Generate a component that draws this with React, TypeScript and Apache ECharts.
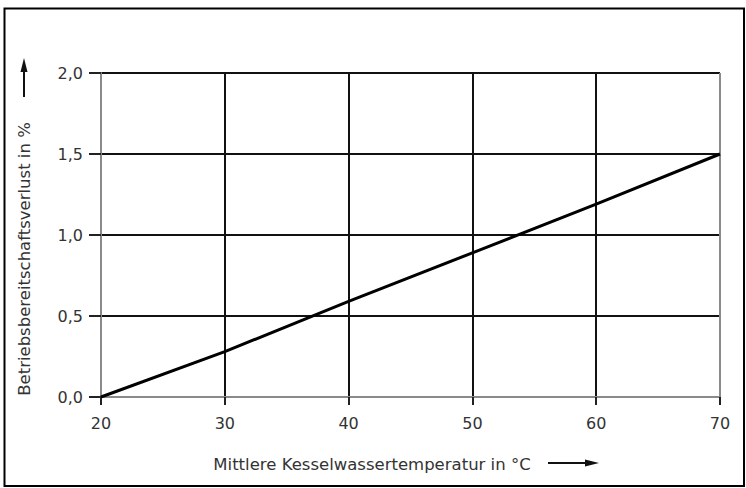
import React, { useEffect, useRef } from "react";
import * as echarts from "echarts";

const temperatures = [20, 30, 40, 50, 60, 70];
const lossPercent = [0, 0.28, 0.59, 0.89, 1.19, 1.5];
const yTitle = "Betriebsbereitschaftsverlust in %";
const xTitle = "Mittlere Kesselwassertemperatur in °C";

const FONT = "DejaVu Sans";
const TXT = "#333";

export default function App() {
  const ref = useRef<HTMLDivElement>(null);
  useEffect(() => {
    if (!ref.current) return;
    const chart = echarts.init(ref.current, null, { renderer: "svg" });
    chart.setOption({
      animation: false,
      backgroundColor: "#fff",
      grid: { left: 101, right: 26, top: 73, bottom: 91 },
      xAxis: {
        type: "value",
        min: 20,
        max: 70,
        interval: 10,
        axisLine: { show: true, lineStyle: { color: "#8a8a8a", width: 2 } },
        axisTick: { show: true, length: 8, lineStyle: { color: "#222", width: 2 } },
        axisLabel: { color: TXT, fontSize: 16, fontFamily: FONT, margin: 18 },
        splitLine: {
          show: true,
          lineStyle: { color: ["#8a8a8a", "#111", "#111", "#111", "#111", "#8a8a8a"], width: 2 },
        },
      },
      yAxis: {
        type: "value",
        min: 0,
        max: 2,
        interval: 0.5,
        axisLine: { show: true, lineStyle: { color: "#8a8a8a", width: 2 } },
        axisTick: { show: true, length: 12, lineStyle: { color: "#222", width: 2 } },
        axisLabel: {
          color: TXT,
          fontSize: 16,
          fontFamily: FONT,
          margin: 18,
          formatter: (v: number) => v.toFixed(1).replace(".", ","),
        },
        splitLine: {
          show: true,
          lineStyle: { color: ["#8a8a8a", "#111", "#111", "#111", "#111"], width: 2 },
        },
      },
      series: [
        {
          type: "line",
          data: temperatures.map((t, i) => [t, lossPercent[i]]),
          showSymbol: false,
          symbol: "none",
          lineStyle: { color: "#000", width: 3 },
          z: 5,
        },
      ],
      graphic: [
        {
          type: "rect",
          shape: { x: 4.5, y: 8.5, width: 739.5, height: 477.5 },
          style: { fill: "none", stroke: "#000", lineWidth: 2 },
          silent: true,
        },
        {
          type: "text",
          x: 24,
          y: 259,
          rotation: Math.PI / 2,
          style: {
            text: yTitle,
            fill: TXT,
            font: `16.5px "${FONT}"`,
            align: "center",
            verticalAlign: "middle",
          },
        },
        {
          type: "line",
          shape: { x1: 24, y1: 97, x2: 24, y2: 70 },
          style: { stroke: "#111", lineWidth: 2 },
        },
        {
          type: "polygon",
          shape: { points: [[24, 58], [20.5, 72], [27.5, 72]] },
          style: { fill: "#111" },
        },
        {
          type: "text",
          x: 372,
          y: 464,
          style: {
            text: xTitle,
            fill: TXT,
            font: `16.5px "${FONT}"`,
            align: "center",
            verticalAlign: "middle",
          },
        },
        {
          type: "line",
          shape: { x1: 548, y1: 463, x2: 586, y2: 463 },
          style: { stroke: "#111", lineWidth: 2 },
        },
        {
          type: "polygon",
          shape: { points: [[599, 463], [585, 459.5], [585, 466.5]] },
          style: { fill: "#111" },
        },
      ],
    });
    return () => chart.dispose();
  }, []);
  return (
    <div
      ref={ref}
      style={{ position: "fixed", left: 0, top: 0, width: 746, height: 488 }}
    />
  );
}
